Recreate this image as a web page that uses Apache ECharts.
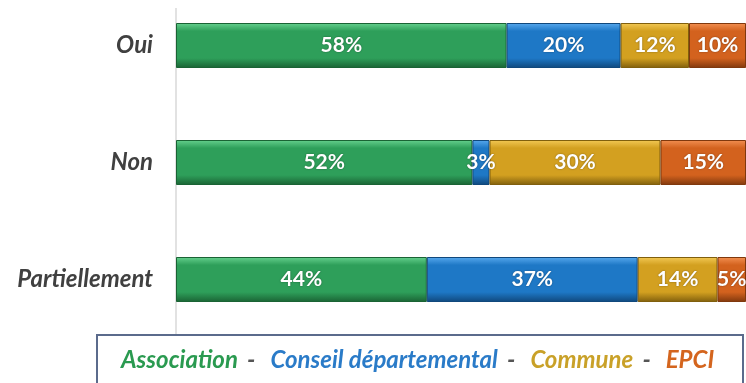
<!DOCTYPE html>
<html>
<head>
<meta charset="utf-8">
<script src="https://cdn.jsdelivr.net/npm/echarts@6/dist/echarts.min.js"></script>
<style>
  html, body { margin: 0; padding: 0; background: #ffffff; }
  #chart { width: 746px; height: 383px; }
</style>
</head>
<body>
<div id="chart"></div>
<script>
const categories = ['Oui', 'Non', 'Partiellement'];
const seriesNames = ['Association', 'Conseil départemental', 'Commune', 'EPCI'];
const association = [58, 52, 44];
const conseil = [20, 3, 37];
const commune = [12, 30, 14];
const epci = [10, 15, 5];

const palette = {
  'Association': { main: '#2e9f5a', light: '#66d18e', dark: '#1a6334', text: '#2a9a50' },
  'Conseil départemental': { main: '#1e78c6', light: '#58a9ee', dark: '#10487c', text: '#2a7bc8' },
  'Commune': { main: '#d3a020', light: '#f3c955', dark: '#805f0d', text: '#c9a128' },
  'EPCI': { main: '#d3621e', light: '#f39052', dark: '#80380d', text: '#d4651e' }
};
const values = [association, conseil, commune, epci];

const fontFam = 'Lato, "Open Sans", sans-serif';

function grad(p) {
  return {
    type: 'linear', x: 0, y: 0, x2: 0, y2: 1,
    colorStops: [
      { offset: 0, color: p.light },
      { offset: 0.18, color: p.main },
      { offset: 0.78, color: p.main },
      { offset: 1, color: p.dark }
    ]
  };
}

const chart = echarts.init(document.getElementById('chart'), null, { renderer: 'canvas' });

const series = seriesNames.map((name, i) => ({
  name: name,
  type: 'bar',
  stack: 'total',
  barWidth: 45,
  data: values[i],
  itemStyle: {
    color: grad(palette[name]),
    borderColor: palette[name].dark,
    borderWidth: 1
  },
  label: {
    show: true,
    position: 'inside',
    formatter: '{c}%',
    color: '#ffffff',
    fontFamily: fontFam,
    fontWeight: 'bold',
    fontSize: 21,
    textShadowColor: 'rgba(0,0,0,0.4)',
    textShadowBlur: 2
  },
  emphasis: { disabled: true }
}));

chart.setOption({
  animation: false,
  backgroundColor: '#ffffff',
  grid: { left: 176, right: 0, top: -13, bottom: 45, containLabel: false, outerBoundsMode: 'none' },
  xAxis: { type: 'value', min: 0, max: 100, show: false },
  yAxis: {
    type: 'category',
    inverse: true,
    data: categories,
    axisLine: { show: false },
    axisTick: { show: false },
    splitLine: { show: false },
    axisLabel: {
      margin: 23,
      color: '#404040',
      fontFamily: fontFam,
      fontStyle: 'italic',
      fontWeight: 'bold',
      fontSize: 24
    }
  },
  graphic: [
    {
      type: 'line', z: 1,
      shape: { x1: 176, y1: 8, x2: 176, y2: 335 },
      style: { stroke: '#d9d9d9', lineWidth: 1.5 }
    },
    {
      type: 'rect', z: 2,
      shape: { x: 97, y: 335, width: 646, height: 60 },
      style: { fill: '#ffffff', stroke: '#5b6b8c', lineWidth: 2 }
    }
  ],
  legend: {
    z: 10,
    left: 116,
    top: 348,
    padding: 0,
    itemWidth: 0,
    itemHeight: 0,
    itemGap: 10,
    icon: 'none',
    selectedMode: false,
    data: seriesNames.map(n => ({ name: n, textStyle: { color: palette[n].text } })),
    formatter: function (name) {
      return name === 'EPCI' ? name : name + ' {s|-}';
    },
    textStyle: {
      fontFamily: fontFam,
      fontStyle: 'italic',
      fontWeight: 'bold',
      fontSize: 24,
      rich: {
        s: { color: '#555555', fontFamily: fontFam, fontStyle: 'italic', fontWeight: 'bold', fontSize: 24, padding: [0, 0, 0, 4] }
      }
    }
  },
  series: series
});
</script>
</body>
</html>
